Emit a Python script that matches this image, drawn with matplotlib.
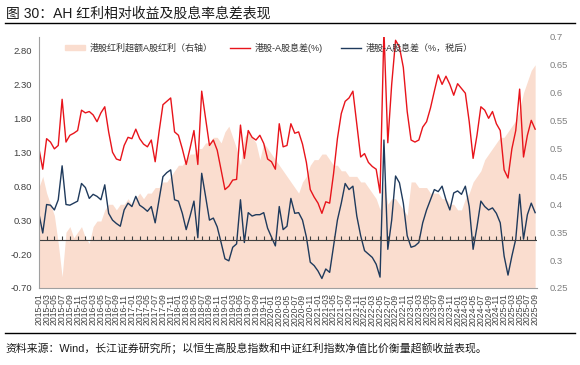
import numpy as np
import pandas as pd
import matplotlib
matplotlib.use("Agg")
import matplotlib.pyplot as plt
from matplotlib.patches import Patch
from matplotlib.lines import Line2D

plt.rcParams['font.family'] = ['Liberation Sans', 'Noto Sans CJK SC', 'DejaVu Sans']
plt.rcParams['axes.unicode_minus'] = False

# monthly, 2015-01 .. 2025-09
months = [p.strftime('%Y-%m') for p in pd.period_range('2015-01', '2025-09', freq='M')]

# 港股红利超额A股红利 (right axis)
excess = [0.43, 0.45, 0.42, 0.40, 0.38, 0.33, 0.27, 0.35, 0.36, 0.34,
          0.35, 0.36, 0.34, 0.33, 0.36, 0.37, 0.37, 0.39, 0.40, 0.40,
          0.39, 0.40, 0.40, 0.41, 0.40, 0.41, 0.42, 0.41, 0.42, 0.42,
          0.43, 0.43, 0.44, 0.44, 0.45, 0.46, 0.47, 0.47, 0.48, 0.49,
          0.49, 0.50, 0.50, 0.51, 0.51, 0.52, 0.52, 0.51, 0.53, 0.54,
          0.52, 0.50, 0.47, 0.52, 0.53, 0.52, 0.51, 0.48, 0.51, 0.50,
          0.49, 0.48, 0.47, 0.46, 0.45, 0.44, 0.43, 0.42, 0.44, 0.45,
          0.47, 0.48, 0.48, 0.49, 0.49, 0.48, 0.47, 0.47, 0.46, 0.46,
          0.45, 0.45, 0.45, 0.44, 0.44, 0.43, 0.42, 0.41, 0.39, 0.44,
          0.40, 0.41, 0.41, 0.40, 0.39, 0.38, 0.44, 0.44, 0.43, 0.43,
          0.43, 0.42, 0.42, 0.42, 0.41, 0.41, 0.40, 0.40, 0.39, 0.39,
          0.41, 0.42, 0.44, 0.45, 0.46, 0.48, 0.49, 0.50, 0.51, 0.52,
          0.52, 0.53, 0.54, 0.55, 0.57, 0.60, 0.62, 0.64, 0.65]

# 港股-A股息差(%)
spread = [1.36, 1.05, 1.50, 1.45, 1.35, 1.40, 2.08, 1.45, 1.55, 1.58,
          1.62, 1.92, 1.88, 1.90, 1.85, 1.75, 1.88, 1.97, 1.60, 1.30,
          1.20, 1.18, 1.40, 1.52, 1.50, 1.64, 1.50, 1.42, 1.38, 1.48,
          1.16, 1.60, 2.00, 2.05, 2.10, 1.60, 1.55, 1.35, 1.12, 1.36,
          1.62, 1.12, 2.20, 1.80, 1.40, 1.48, 1.33, 1.04, 0.75, 0.80,
          0.89, 0.90, 1.70, 1.21, 1.62, 1.52, 1.48, 1.55, 1.43, 1.20,
          1.16, 1.05, 1.72, 1.38, 1.40, 1.72, 1.58, 1.60, 1.42, 1.15,
          0.75, 0.64, 0.55, 0.40, 0.57, 0.55, 0.98, 1.50, 1.87, 2.05,
          2.10, 2.20, 1.72, 1.23, 1.28, 1.15, 1.09, 1.05, 0.70, 3.10,
          1.44, 2.30, 2.95, 2.85, 2.55, 1.90, 1.48, 1.45, 1.48, 1.67,
          1.75, 1.95, 2.20, 2.44, 2.30, 2.42, 2.30, 2.14, 2.31, 2.24,
          2.17, 1.75, 1.21, 1.55, 1.97, 1.92, 1.80, 1.90, 1.72, 1.62,
          1.04, 0.92, 1.35, 1.62, 2.23, 1.23, 1.55, 1.77, 1.64]

# 港股-A股息差（%，税后）
spread_tax = [0.40, 0.11, 0.53, 0.52, 0.45, 0.60, 1.10, 0.53, 0.52, 0.55,
              0.58, 0.84, 0.78, 0.62, 0.68, 0.65, 0.60, 0.82, 0.40, 0.30,
              0.25, 0.21, 0.45, 0.55, 0.50, 0.65, 0.52, 0.48, 0.43, 0.50,
              0.26, 0.60, 0.94, 1.00, 1.04, 0.60, 0.58, 0.40, 0.16, 0.36,
              0.58, 0.04, 0.99, 0.65, 0.30, 0.33, 0.20, -0.03, -0.27, -0.30,
              -0.10, -0.05, 0.60, -0.03, 0.41, 0.36, 0.38, 0.38, 0.41, 0.18,
              0.05, -0.08, 0.50, 0.16, 0.21, 0.62, 0.40, 0.41, 0.30, 0.05,
              -0.32, -0.37, -0.45, -0.56, -0.42, -0.47, -0.08, 0.30, 0.55, 0.84,
              0.75, 0.80, 0.36, 0.07, -0.15, -0.20, -0.25, -0.35, -0.54, 1.48,
              -0.13, 0.30, 0.95, 0.85, 0.55, 0.07, -0.10, -0.08, -0.03, 0.26,
              0.45, 0.60, 0.75, 0.72, 0.80, 0.60, 0.45, 0.70, 0.73, 0.68,
              0.80, 0.50, -0.13, 0.20, 0.58, 0.50, 0.45, 0.48, 0.40, 0.26,
              -0.23, -0.51, -0.23, 0.02, 0.68, 0.02, 0.38, 0.55, 0.41]

x = np.arange(len(months))
red = '#E8141B'
navy = '#1F3A5C'
beige = '#FADDCF'

fig = plt.figure(figsize=(5.8, 3.65), dpi=100)
ax = fig.add_axes([0.067, 0.211, 0.859, 0.688])
ax2 = ax.twinx()

ax2.fill_between(x, 0, excess, color=beige, lw=0)
ax2.set_ylim(0.25, 0.7)
ax2.set_yticks([0.25, 0.3, 0.35, 0.4, 0.45, 0.5, 0.55, 0.6, 0.65, 0.7])
ax2.set_yticklabels(['0.25', '0.3', '0.35', '0.4', '0.45', '0.5', '0.55', '0.6', '0.65', '0.7'])
ax2.tick_params(axis='y', length=0, pad=9, labelsize=6.8, labelcolor='#808080')

ax.set_zorder(ax2.get_zorder() + 1)
ax.patch.set_visible(False)
ax.plot(x, spread, color=red, lw=1.0)
ax.plot(x, spread_tax, color=navy, lw=1.0)
ax.axhline(0, color='#404040', lw=0.8)
ax.plot(x[::2], np.zeros(len(x[::2])), ls='none', marker=2, ms=3, mew=0.8, color='#404040')

ax.set_ylim(-0.7, 3.0)
ax.set_yticks(np.arange(-0.7, 2.81, 0.5))
ax.set_yticklabels(['%.2f' % v for v in np.arange(-0.7, 2.81, 0.5)])
ax.tick_params(axis='y', length=0, pad=5, labelsize=6.8, labelcolor='#404040')
ax.set_xlim(0, 128.5)
ax.set_xticks(x[::2])
ax.set_xticklabels(months[::2], rotation=90, fontsize=6.2, color='#404040')
ax.tick_params(axis='x', length=0, pad=4)

for a in (ax, ax2):
    for s in ('top', 'right', 'left', 'bottom'):
        a.spines[s].set_visible(False)
for s in ('left', 'bottom'):
    ax.spines[s].set_visible(True)
    ax.spines[s].set_color('#A0A0A0')
    ax.spines[s].set_linewidth(0.8)

handles = [Patch(color=beige), Line2D([], [], color=red, lw=1.0), Line2D([], [], color=navy, lw=1.0)]
labels = ['港股红利超额A股红利（右轴）', '港股-A股息差(%)', '港股-A股息差（%，税后）']
fig.legend(handles, labels, loc='upper center', bbox_to_anchor=(0.463, 0.905), ncol=3,
           frameon=False, fontsize=6.5, handlelength=2.2, handleheight=0.6,
           columnspacing=2.0, handletextpad=0.5, labelcolor='#333333')

fig.text(0.01, 0.962, '图 30：AH 红利相对收益及股息率息差表现', fontsize=10, va='center', color='#1a1a1a')
fig.add_artist(Line2D([0.008, 0.992], [0.937, 0.937], color='black', lw=1.0))
fig.add_artist(Line2D([0.008, 0.992], [0.088, 0.088], color='black', lw=1.0))
fig.text(0.009, 0.047, '资料来源：Wind，长江证券研究所；以恒生高股息指数和中证红利指数净值比价衡量超额收益表现。',
         fontsize=7.8, va='center', color='#1a1a1a')

fig.savefig('out.png', dpi=100)
